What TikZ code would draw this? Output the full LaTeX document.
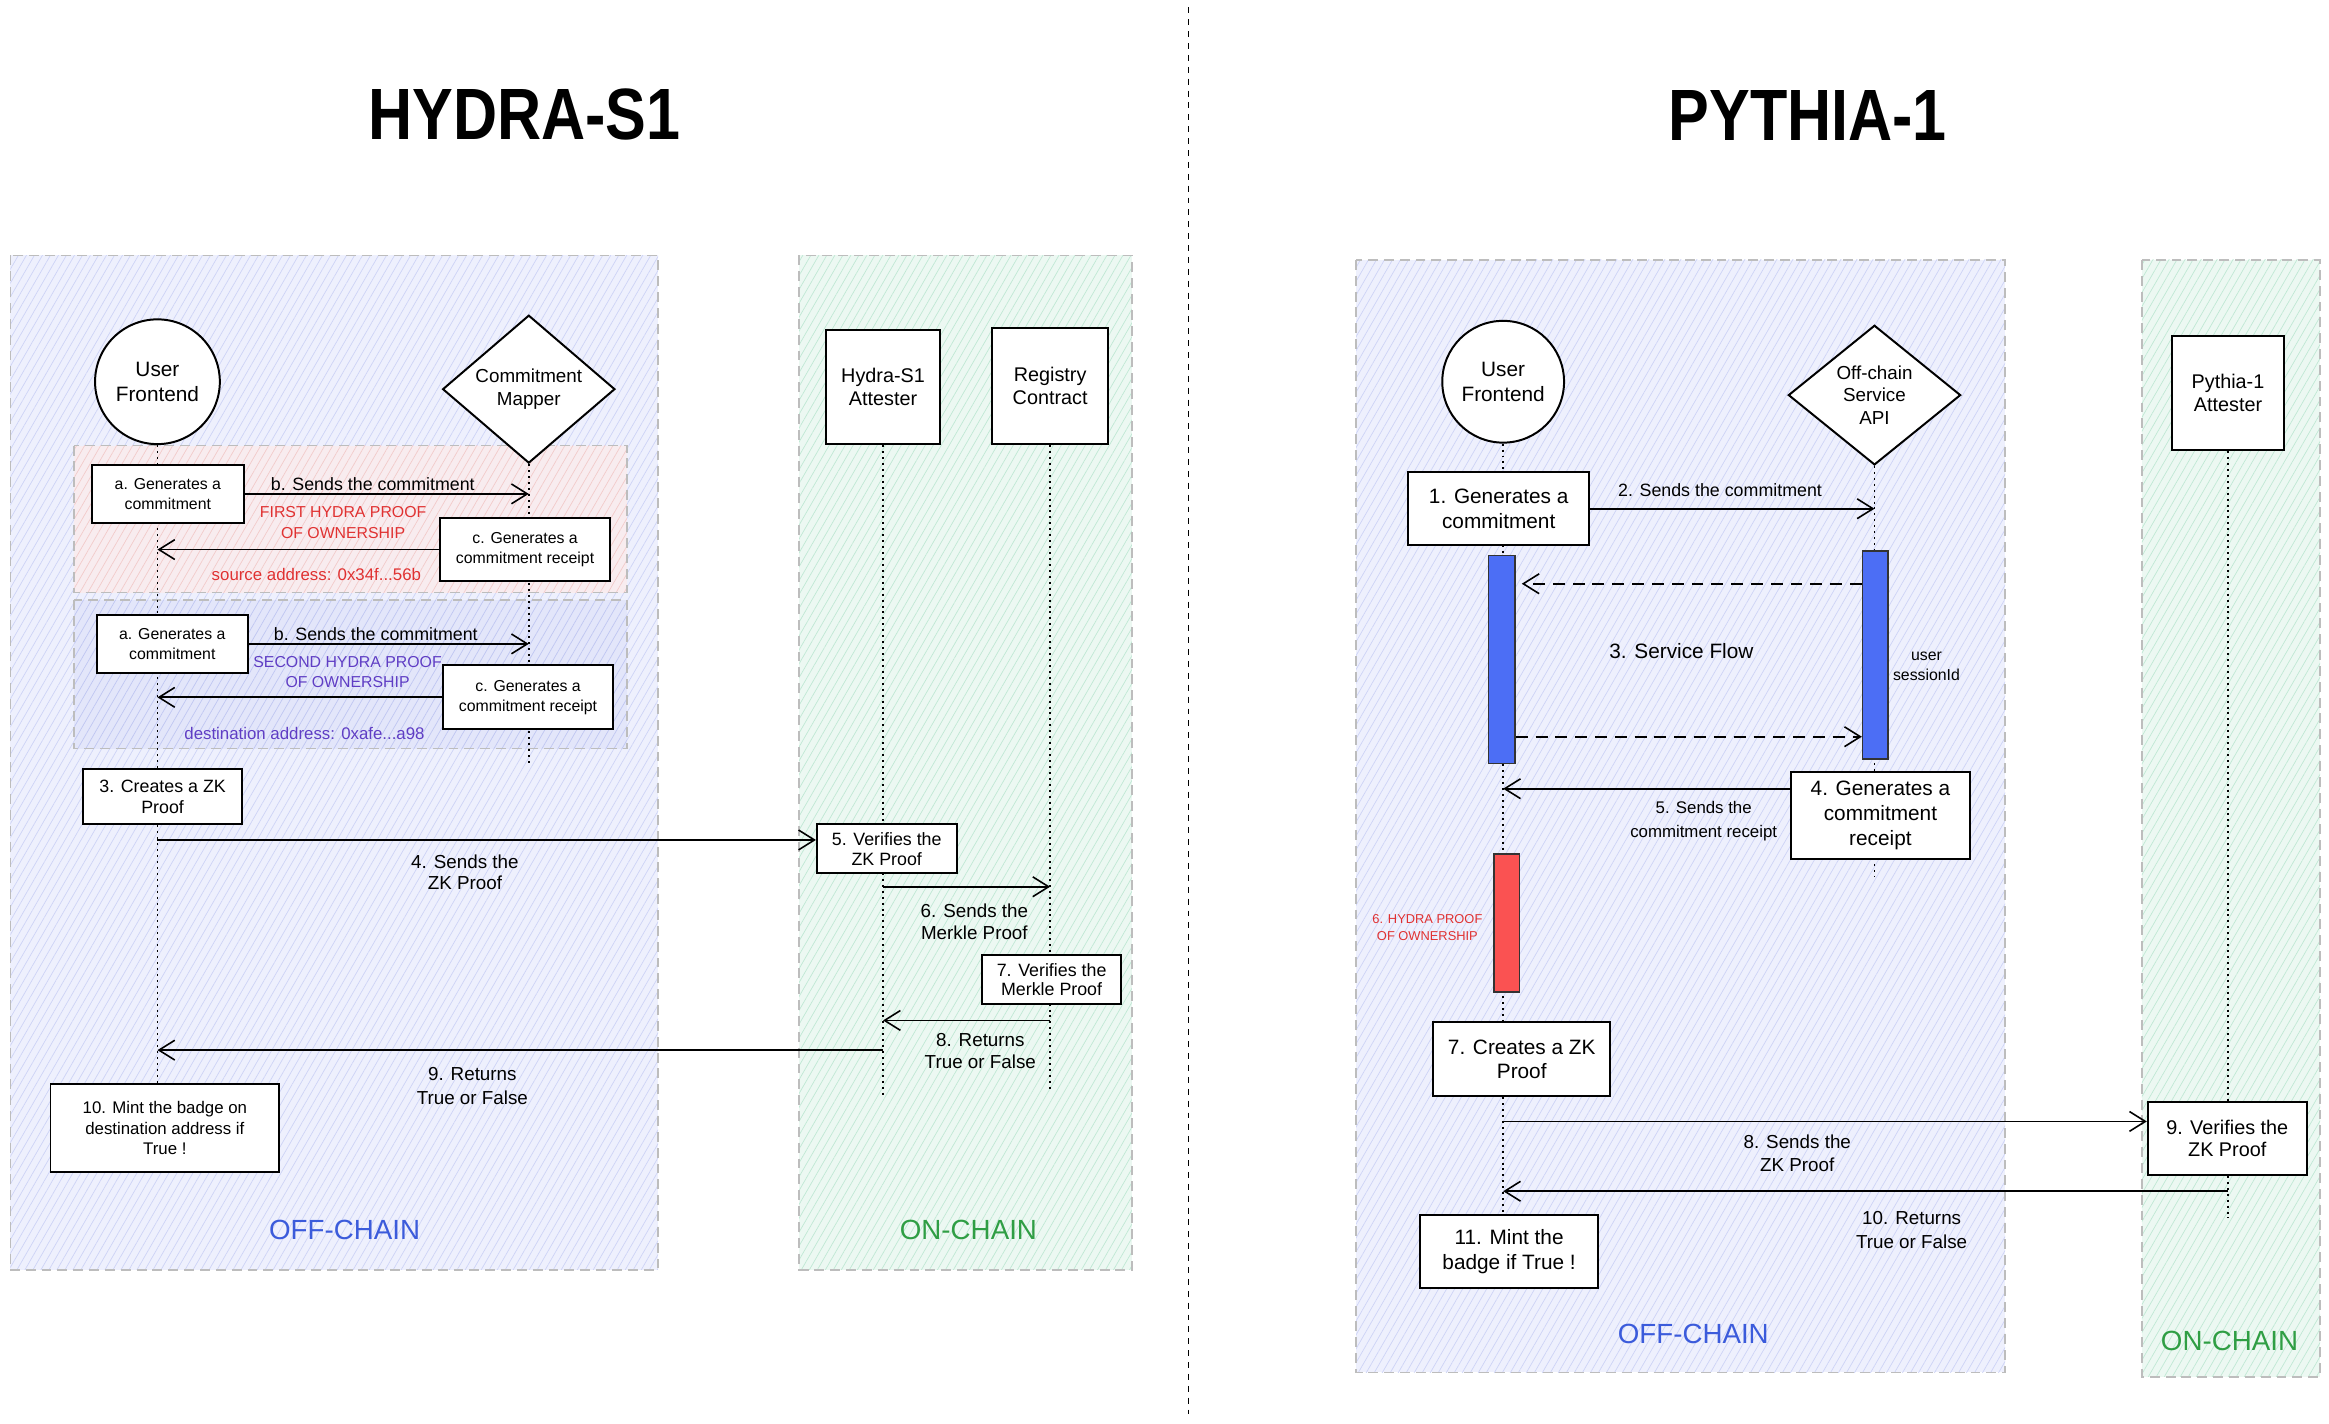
\documentclass[tikz,border=0pt]{standalone}
\usepackage{fontspec}
\setmainfont{Liberation Sans}
\newfontfamily\titlefont{Liberation Sans}[FakeStretch=0.84]
\usetikzlibrary{arrows.meta,shapes.geometric,patterns.meta}
\newcommand\fsz[2]{\fontsize{#1}{#2}\selectfont}
\definecolor{offfill}{HTML}{EEF0FD}
\definecolor{offhatch}{HTML}{CDD3F6}
\definecolor{onfill}{HTML}{ECF8F2}
\definecolor{onhatch}{HTML}{BFE8D4}
\definecolor{redfill}{HTML}{F8ECEF}
\definecolor{redhatch}{HTML}{F2CACA}
\definecolor{bluefill}{HTML}{E3E6FA}
\definecolor{bluehatch}{HTML}{BFC6F2}
\definecolor{offblue}{HTML}{3B5BDB}
\definecolor{ongreen}{HTML}{2F9E44}
\definecolor{txtred}{HTML}{E03131}
\definecolor{txtpurple}{HTML}{5F3DC4}
\definecolor{barblue}{HTML}{4C6EF5}
\definecolor{barred}{HTML}{FA5252}
\definecolor{bordergray}{HTML}{BDBDBD}
\pgfdeclarelayer{bg}
\pgfdeclarelayer{lines}
\pgfsetlayers{bg,lines,main}
\begin{document}
\begin{tikzpicture}[x=0.75pt,y=-0.75pt,
  region/.style={draw=bordergray, dash pattern=on 5pt off 3pt, line width=0.8pt},
  regoff/.style={region, preaction={fill=offfill}, preaction={pattern={Lines[angle=60,distance=3.5pt,line width=0.35pt]}, pattern color=offhatch}},
  regon/.style={region, preaction={fill=onfill}, preaction={pattern={Lines[angle=60,distance=3.5pt,line width=0.35pt]}, pattern color=onhatch}},
  regred/.style={region, preaction={fill=redfill}, preaction={pattern={Lines[angle=60,distance=3.5pt,line width=0.35pt]}, pattern color=redhatch}},
  regblue/.style={region, preaction={fill=bluefill}, preaction={pattern={Lines[angle=60,distance=3.5pt,line width=0.35pt]}, pattern color=bluehatch}},
  box/.style={draw=black, fill=white, line width=1pt, align=center, inner sep=1pt},
  circ/.style={circle, draw=black, fill=white, line width=1pt, minimum size=63pt, inner sep=0pt, align=center, font=\fsz{10.5}{12.5}},
  diam/.style={diamond, draw=black, fill=white, line width=1pt, inner sep=0pt, align=center},
  bar/.style={draw=black!80, line width=0.8pt, inner sep=0pt},
  lbl/.style={align=center, inner sep=0pt},
  arr/.style={line width=0.9pt, -{Straight Barb[length=8pt,width=10pt,line width=0.8pt]}},
  darr/.style={arr, dash pattern=on 6pt off 4pt},
  life/.style={line width=0.9pt, dash pattern=on 1pt off 2pt},
  sep/.style={line width=0.6pt, dash pattern=on 3pt off 3pt},
  chainlbl/.style={inner sep=0pt, font=\fsz{14}{16}}
]
\useasboundingbox (0,0) rectangle (1568,958.7);
\begin{pgfonlayer}{bg}
  \fill[white] (0,0) rectangle (1568,958.7);
  \draw[regoff] (7,172) rectangle (443,855);
  \draw[regon] (538,172) rectangle (762,855);
  \draw[regred] (50,300) rectangle (422,399);
  \draw[regblue] (50,404) rectangle (422,504);
  \draw[regoff] (913,175) rectangle (1350,924);
  \draw[regon] (1442,175) rectangle (1562,927);
  \draw[sep] (800,5) -- (800,952);
\end{pgfonlayer}

% titles
\node[inner sep=0pt, font=\titlefont\bfseries\fsz{36.7}{40}] (t1) at (353,77) {HYDRA-S1};
\node[inner sep=0pt, font=\titlefont\bfseries\fsz{36.7}{40}] (t2) at (1217,78) {PYTHIA-1};

% ---------- HYDRA-S1 ----------
\node[circ] (hU) at (106,257) {User\\Frontend};
\node[diam, minimum width=87pt, minimum height=71.25pt, font=\fsz{9.5}{12}] (hM) at (356,262) {Commitment\\Mapper};
\node[box, minimum width=57.75pt, minimum height=57.75pt, font=\fsz{10}{11.5}] (hAt) at (594.5,260.5) {Hydra-S1\\Attester};
\node[box, minimum width=58.5pt, minimum height=58.5pt, font=\fsz{10}{11.5}] (hReg) at (707,260) {Registry\\Contract};

\node[box, minimum width=76.5pt, minimum height=29.25pt, font=\fsz{8}{10}] (hA1) at (113,332.5) {a. Generates a\\commitment};
\node[box, minimum width=86.25pt, minimum height=31.5pt, font=\fsz{8}{10}] (hC1) at (353.5,370) {c. Generates a\\commitment receipt};
\node[lbl, font=\fsz{9}{11}] (lb1) at (251,326) {b. Sends the commitment};
\node[lbl, text=txtred, font=\fsz{8}{10.5}] (lr1) at (231,352) {FIRST HYDRA PROOF\\OF OWNERSHIP};
\node[lbl, text=txtred, font=\fsz{8.5}{10}] (ls1) at (213,387) {source address: 0x34f...56b};

\node[box, minimum width=76.5pt, minimum height=29.25pt, font=\fsz{8}{10}] (hA2) at (116,433.5) {a. Generates a\\commitment};
\node[box, minimum width=86.25pt, minimum height=32.25pt, font=\fsz{8}{10}] (hC2) at (355.5,469.5) {c. Generates a\\commitment receipt};
\node[lbl, font=\fsz{9}{11}] (lb2) at (253,427) {b. Sends the commitment};
\node[lbl, text=txtpurple, font=\fsz{8}{10.5}] (lr2) at (234,452.5) {SECOND HYDRA PROOF\\OF OWNERSHIP};
\node[lbl, text=txtpurple, font=\fsz{8.5}{10}] (ls2) at (205,494) {destination address: 0xafe...a98};

\node[box, minimum width=80.25pt, minimum height=27.75pt, font=\fsz{9}{10.5}] (h3) at (109.5,536.5) {3. Creates a ZK\\Proof};
\node[box, minimum width=70.5pt, minimum height=24.75pt, font=\fsz{9}{10}] (h5) at (597,571.5) {5. Verifies the\\ZK Proof};
\node[lbl, font=\fsz{9.5}{10.5}] (l4) at (313,587) {4. Sends the\\ZK Proof};
\node[lbl, font=\fsz{9.5}{11}] (l6) at (656,620.5) {6. Sends the\\Merkle Proof};
\node[box, minimum width=70.5pt, minimum height=24.75pt, font=\fsz{9}{10}] (h7) at (708,659.5) {7. Verifies the\\Merkle Proof};
\node[lbl, font=\fsz{9.5}{11}] (l8) at (660,707.5) {8. Returns\\True or False};
\node[lbl, font=\fsz{9.5}{12}] (l9) at (318,731) {9. Returns\\True or False};
\node[box, minimum width=115.5pt, minimum height=44.25pt, font=\fsz{8.5}{10.5}] (h10) at (111,759.5) {10. Mint the badge on\\destination address if\\True !};

\node[chainlbl, text=offblue] (off1) at (232,828) {OFF-CHAIN};
\node[chainlbl, text=ongreen] (on1) at (652,828) {ON-CHAIN};

% ---------- PYTHIA-1 ----------
\node[circ, minimum size=61.5pt] (pU) at (1012,257) {User\\Frontend};
\node[diam, minimum width=87pt, minimum height=70.5pt, font=\fsz{9.5}{11.5}] (pApi) at (1262,266) {Off-chain\\Service\\API};
\node[box, minimum width=57pt, minimum height=57.75pt, font=\fsz{10}{11.5}] (pAt) at (1500,264.5) {Pythia-1\\Attester};

\node[box, minimum width=91.5pt, minimum height=36.75pt, font=\fsz{10.5}{12.75}] (p1) at (1009,342.5) {1. Generates a\\commitment};
\node[lbl, font=\fsz{9}{11}] (l2) at (1158,330) {2. Sends the commitment};
\node[bar, fill=barblue, minimum width=13.5pt, minimum height=105pt] (pBL) at (1011,444) {};
\node[bar, fill=barblue, minimum width=12.75pt, minimum height=105pt] (pBR) at (1262.5,441) {};
\node[lbl, font=\fsz{10.5}{12}] (l3) at (1132,438) {3. Service Flow};
\node[lbl, font=\fsz{8}{9.75}] (lsid) at (1297,448.5) {user\\sessionId};
\node[box, minimum width=90pt, minimum height=43.5pt, font=\fsz{10.5}{12.75}] (p4) at (1266,549) {4. Generates a\\commitment\\receipt};
\node[lbl, font=\fsz{8.5}{12}] (l5) at (1147,553) {5. Sends the\\commitment receipt};
\node[bar, fill=barred, minimum width=12.75pt, minimum height=69.75pt] (pR) at (1014.5,621.5) {};
\node[lbl, text=txtred, font=\fsz{6.5}{9}] (l6r) at (961,624.5) {6. HYDRA PROOF\\OF OWNERSHIP};
\node[box, minimum width=89.25pt, minimum height=37.5pt, font=\fsz{10.5}{12}] (p7) at (1024.5,713) {7. Creates a ZK\\Proof};
\node[lbl, font=\fsz{9.5}{11.25}] (l8r) at (1210,776.5) {8. Sends the\\ZK Proof};
\node[box, minimum width=80.25pt, minimum height=36.75pt, font=\fsz{10}{11}] (p9) at (1499.5,766.5) {9. Verifies the\\ZK Proof};
\node[lbl, font=\fsz{9.5}{12}] (l10) at (1287,828) {10. Returns\\True or False};
\node[box, minimum width=90pt, minimum height=36.75pt, font=\fsz{10.5}{12.75}] (p11) at (1016,842.5) {11. Mint the\\badge if True !};

\node[chainlbl, text=offblue] (off2) at (1140,898) {OFF-CHAIN};
\node[chainlbl, text=ongreen] (on2) at (1501,903) {ON-CHAIN};

% lifelines
\begin{pgfonlayer}{lines}
  \draw[life] (hU.south) -- (hU |- 0,735);
  \draw[life] (hM.south) -- (hM |- 0,515);
  \draw[life] (hAt.south) -- (hAt |- 0,738);
  \draw[life] (hReg.south) -- (hReg |- 0,735);
  \draw[life] (pU.south) -- (pU |- 0,818);
  \draw[life] (pApi.south) -- (pApi |- 0,590);
  \draw[life] (pAt.south) -- (pAt |- 0,820);
\end{pgfonlayer}

% connectors HYDRA
\draw[arr] (hA1.east) -- (hA1.east -| hM);
\draw[arr] (hC1.west) -- (hC1.west -| hU);
\draw[arr] (hA2.east) -- (hA2.east -| hM);
\draw[arr] (hC2.west) -- (hC2.west -| hU);
\coordinate (a4) at ([yshift=4.5pt]h5.west);
\draw[arr] (a4 -| hU) -- (a4);
\draw[arr] (hAt |- 0,597) -- (hReg |- 0,597);
\draw[arr] (hReg |- 0,687) -- (hAt |- 0,687);
\draw[arr] (hAt |- 0,707) -- (hU |- 0,707);

% connectors PYTHIA
\draw[arr] (p1.east) -- (p1.east -| pApi);
\coordinate (d1) at ([xshift=3pt]pBL.east);
\draw[darr] (pBR.west |- 0,393) -- (d1 |- 0,393);
\draw[darr] (pBL.east |- 0,496) -- (pBR.west |- 0,496);
\draw[arr] (p4.west |- 0,531) -- (pU |- 0,531);
\draw[arr] (pU |- 0,755) -- (p9.west |- 0,755);
\draw[arr] (pAt |- 0,802) -- (pU |- 0,802);
\end{tikzpicture}
\end{document}
